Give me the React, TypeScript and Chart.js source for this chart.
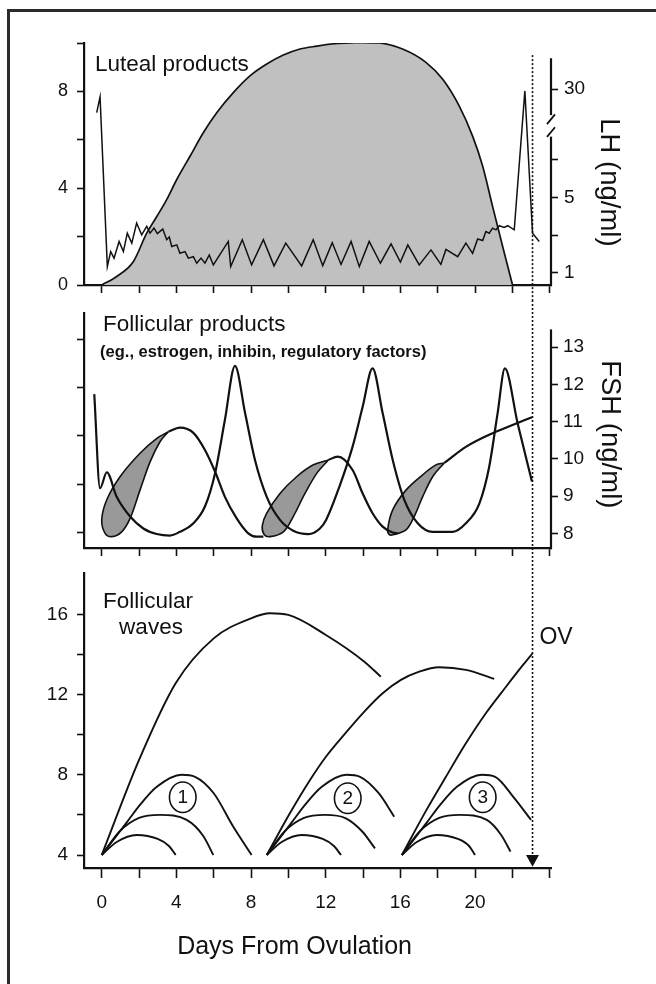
import React, { useEffect, useRef } from 'react';
import { Chart, registerables } from 'chart.js';

Chart.register(...registerables);

type P = [number, number];

const FONT = '"Liberation Sans", Arial, Helvetica, sans-serif';
const INK = '#111';

// ---------- shared x axis ----------
const X_MIN = -0.95;
const X_MAX = 24.07;
const dayTicks = [0, 2, 4, 6, 8, 10, 12, 14, 16, 18, 20, 22, 24];
const dayTickLabels = ['0', '', '4', '', '8', '', '12', '', '16', '', '20', '', ''];
const OVULATION_DAY = 23.08;

// ---------- panel 1 : luteal products / LH ----------
const lutealTicks = [0, 2, 4, 6, 8, 10];
const lutealTickLabels = ['0', '', '4', '', '8', ''];
const lhTickPos = [0.51, 2.05, 3.6, 5.19, 8.09];
const lhTickLabels = ['1', '', '5', '', '30'];
const lhAxisTop = 9.37;
const lhBreakHigh = 7.02;
const lhBreakLow = 6.13;
const lhBreakMarks = [6.85, 6.32];

const lutealProducts: P[] = [
  [0, 0], [0.8, 0.35], [1.69, 0.96], [2.41, 2.14], [2.95, 2.83], [3.48, 3.53], [4.02, 4.36],
  [4.73, 5.32], [5.44, 6.29], [6.16, 7.12], [7.05, 7.95], [7.94, 8.64], [8.84, 9.13], [9.73, 9.5],
  [10.62, 9.75], [11.52, 9.87], [12.5, 9.97], [13.8, 10.02], [14.87, 10.0], [16.12, 9.75],
  [17.37, 9.2], [18.27, 8.5], [19.15, 7.4], [19.87, 6.15], [20.41, 4.91], [20.94, 3.25],
  [21.48, 1.59], [22.01, 0],
];

const lh: P[] = [
  [-0.27, 7.12], [-0.09, 7.77], [0.3, 0.76], [0.48, 1.38], [0.66, 1.11], [0.93, 1.8], [1.16, 1.38],
  [1.37, 2.14], [1.61, 1.73], [1.87, 2.56], [2.14, 2.07], [2.41, 2.42], [2.59, 2.14], [2.8, 2.35],
  [2.98, 2.12], [3.27, 2.31], [3.48, 1.87], [3.62, 1.98], [3.75, 1.59], [4.02, 1.66], [4.19, 1.31],
  [4.46, 1.38], [4.64, 1.11], [4.91, 1.17], [5.09, 0.9], [5.32, 1.11], [5.53, 0.9], [5.76, 1.24],
  [5.98, 0.83], [6.78, 1.8], [6.91, 0.76], [7.53, 1.87], [8.03, 0.83], [8.66, 1.87], [9.23, 0.79],
  [9.86, 1.73], [10.71, 0.79], [11.33, 1.87], [11.84, 0.8], [12.35, 1.75], [12.82, 0.85],
  [13.36, 1.8], [13.8, 0.76], [14.33, 1.8], [14.93, 0.9], [15.5, 1.7], [16.0, 0.95], [16.4, 1.66],
  [17.01, 0.83], [17.64, 1.45], [18.17, 0.85], [18.44, 1.47], [19.07, 1.17], [19.51, 1.73],
  [19.87, 1.31], [20.14, 1.9], [20.41, 1.84], [20.58, 2.21], [20.76, 2.14], [20.94, 2.35],
  [21.12, 2.28], [21.3, 2.45], [21.56, 2.38], [21.75, 2.45], [22.1, 2.28], [22.67, 8.02],
  [23.08, 2.14], [23.44, 1.8],
];

// ---------- panel 2 : follicular products / FSH ----------
const FSH_MIN = 7.605;
const FSH_MAX = 13.92;
const fshTicks = [8, 9, 10, 11, 12, 13];
const fshTickLabels = ['8', '9', '10', '11', '12', '13'];
const fshAxisTop = 13.48;
const productTicks = [0, 1, 2, 3, 4];
const productTickLabels = ['', '', '', '', ''];

const fsh: P[] = [
  [-0.4, 11.74], [-0.09, 9.21], [0.27, 9.64], [0.8, 8.98], [1.52, 8.45], [2.23, 8.13], [2.95, 7.98],
  [3.66, 7.94], [4.19, 8.04], [4.91, 8.27], [5.53, 8.72], [6.07, 9.61], [6.6, 11.05], [7.14, 12.5],
  [7.68, 11.23], [8.21, 9.97], [8.84, 8.98], [9.55, 8.36], [10.26, 8.07], [11.07, 7.98],
  [11.69, 8.13], [12.02, 8.36], [12.73, 9.25], [13.44, 10.33], [13.98, 11.4], [14.51, 12.43],
  [15.05, 11.23], [15.59, 9.97], [16.21, 8.9], [16.93, 8.27], [17.73, 8.04], [18.8, 8.04],
  [19.51, 8.27], [20.23, 8.8], [20.76, 9.79], [21.21, 11.23], [21.6, 12.43], [22.28, 10.96],
  [23.05, 9.39],
];

const products1: P[] = [
  [3.57, 10.73], [4.19, 10.84], [4.91, 10.7], [5.53, 10.24], [6.07, 9.66], [6.6, 8.98],
  [7.23, 8.4], [7.85, 8.0], [8.3, 7.91], [8.66, 7.91],
];
const leaf1: P[] = [
  [3.57, 10.73], [2.95, 10.55], [2.05, 10.15], [0.98, 9.52], [0.27, 8.9], [0.0, 8.36], [0.18, 8.0],
  [0.54, 7.91], [1.07, 8.04], [1.52, 8.4], [2.05, 9.16], [2.59, 9.92], [3.12, 10.46], [3.57, 10.73],
];
const products2: P[] = [
  [12.14, 9.97], [12.64, 10.06], [13.44, 9.7], [13.98, 9.07], [14.51, 8.54], [15.05, 8.18],
  [15.59, 8.02], [15.85, 8.0],
];
const leaf2: P[] = [
  [12.14, 9.97], [11.34, 9.84], [10.44, 9.52], [9.55, 9.07], [8.84, 8.54], [8.6, 8.2], [8.7, 7.97],
  [9.01, 7.91], [9.73, 8.04], [10.26, 8.45], [10.89, 9.07], [11.52, 9.61], [12.14, 9.97],
];
const products3: P[] = [
  [18.35, 9.89], [19.53, 10.33], [20.94, 10.69], [22.01, 10.91], [23.05, 11.12],
];
const leaf3: P[] = [
  [18.35, 9.89], [17.9, 9.84], [17.19, 9.57], [16.3, 9.16], [15.59, 8.63], [15.32, 8.1],
  [15.42, 7.96], [15.67, 7.97], [16.3, 8.09], [16.74, 8.45], [17.19, 8.98], [17.73, 9.52],
  [18.35, 9.89],
];

// ---------- panel 3 : follicular waves ----------
const WAVE_MIN = 3.352;
const WAVE_MAX = 18.06;
const waveTicks = [4, 6, 8, 10, 12, 14, 16];
const waveTickLabels = ['4', '', '8', '', '12', '', '16'];

const wave1Dominant: P[] = [
  [0, 4], [2.0, 8.74], [3.96, 12.56], [6.0, 14.8], [8.0, 15.8], [9.02, 16.05], [10.0, 15.97],
  [12.01, 14.97], [14.07, 13.64], [14.95, 12.89],
];
const wave1Large: P[] = [
  [0, 4], [1.32, 5.6], [2.05, 6.5], [2.95, 7.4], [4.28, 8.0], [5.0, 7.9], [6.0, 7.08], [7.05, 5.41],
  [8.03, 4.0],
];
const wave1Medium: P[] = [
  [0, 4], [0.98, 5.2], [2.0, 5.85], [3.12, 6.0], [4.55, 5.75], [5.44, 4.95], [5.98, 4.0],
];
const wave1Small: P[] = [
  [0, 4], [0.8, 4.65], [1.87, 5.0], [3.0, 4.8], [3.6, 4.45], [3.96, 4.0],
];

const wave2Dominant: P[] = [
  [8.84, 4], [10.08, 6.08], [11.16, 7.74], [12.01, 8.9], [13.08, 10.1], [14.07, 11.15],
  [15.05, 12.06], [16.03, 12.73], [17.01, 13.14], [18.08, 13.36], [19.51, 13.23], [21.03, 12.78],
];
const wave2Large: P[] = [
  [8.84, 4], [10.16, 5.6], [10.89, 6.5], [11.79, 7.4], [13.12, 8.0], [13.84, 7.9], [14.84, 7.08],
  [15.67, 5.91],
];
const wave2Medium: P[] = [
  [8.84, 4], [9.82, 5.2], [10.84, 5.85], [11.96, 6.0], [13.08, 5.83], [13.97, 5.16], [14.64, 4.33],
];
const wave2Small: P[] = [
  [8.84, 4], [9.64, 4.65], [10.71, 5.0], [11.84, 4.8], [12.44, 4.45], [12.82, 4.0],
];

const wave3Dominant: P[] = [
  [16.08, 4], [17.37, 6.2], [18.44, 7.9], [19.51, 9.57], [20.58, 11.07], [21.66, 12.39],
  [22.55, 13.45], [23.08, 14.06],
];
const wave3Large: P[] = [
  [16.08, 4], [17.4, 5.6], [18.13, 6.5], [19.03, 7.4], [20.36, 8.0], [21.08, 7.9], [22.05, 6.9],
  [23.0, 5.75],
];
const wave3Medium: P[] = [
  [16.08, 4], [17.06, 5.2], [18.08, 5.85], [19.2, 6.0], [20.63, 5.75], [21.4, 5.0], [21.9, 4.17],
];
const wave3Small: P[] = [
  [16.08, 4], [16.88, 4.65], [17.95, 5.0], [19.08, 4.8], [19.68, 4.45], [20.0, 4.0],
];

const waveNumbers = ['1', '2', '3'];
const waveNumberPos: P[] = [[4.34, 6.88], [13.18, 6.83], [20.41, 6.88]];

// ---------- helpers ----------
const xy = (pts: P[]) => pts.map(([x, y]) => ({ x, y }));

const curve = (pts: P[], width: number, tension: number, extra: any = {}) => ({
  data: xy(pts),
  borderColor: INK,
  borderWidth: width,
  pointRadius: 0,
  pointHoverRadius: 0,
  tension,
  fill: false,
  ...extra,
});

const smooth = (pts: P[], width: number, extra: any = {}) =>
  curve(pts, width, 0, { cubicInterpolationMode: 'monotone', ...extra });

const tickFont = (size: number) => ({ family: FONT, size });

const fixedTicks = (values: number[]) => (scale: any) => {
  scale.ticks = values.map((v) => ({ value: v }));
};

const labelFrom = (values: number[], labels: string[]) => (v: any) => {
  const i = values.findIndex((t) => Math.abs(t - Number(v)) < 1e-6);
  return i >= 0 ? labels[i] : '';
};

const xScale = (height: number, showLabels: boolean, tickLength: number) => ({
  type: 'linear',
  position: 'bottom',
  min: X_MIN,
  max: X_MAX,
  afterBuildTicks: fixedTicks(dayTicks),
  afterFit: (s: any) => {
    s.height = height;
    s.paddingLeft = 0;
    s.paddingRight = 0;
  },
  ticks: {
    display: showLabels,
    autoSkip: false,
    maxRotation: 0,
    minRotation: 0,
    padding: 13.6,
    color: INK,
    font: tickFont(19),
    callback: labelFrom(dayTicks, dayTickLabels),
  },
  grid: {
    display: true,
    drawOnChartArea: false,
    drawTicks: true,
    tickLength,
    tickWidth: 1.6,
    tickColor: INK,
    color: INK,
  },
  border: { display: true, color: INK, width: 2.2 },
});

const yScale = (o: {
  position: 'left' | 'right';
  min: number;
  max: number;
  ticks: number[];
  labels: string[];
  size: number;
  padding: number;
  width: number;
  border: boolean;
}) => ({
  type: 'linear',
  position: o.position,
  min: o.min,
  max: o.max,
  afterBuildTicks: fixedTicks(o.ticks),
  afterFit: (s: any) => {
    s.width = o.width;
    s.paddingTop = 0;
    s.paddingBottom = 0;
  },
  ticks: {
    color: INK,
    padding: o.padding,
    font: tickFont(o.size),
    callback: labelFrom(o.ticks, o.labels),
    autoSkip: false,
  },
  grid: {
    display: true,
    drawOnChartArea: false,
    drawTicks: true,
    tickLength: 7,
    tickWidth: 1.6,
    tickColor: INK,
    color: INK,
  },
  border: { display: o.border, color: INK, width: 2.2 },
});

const common = {
  animation: false,
  responsive: true,
  maintainAspectRatio: false,
  events: [],
  plugins: { legend: { display: false }, tooltip: { enabled: false } },
};

function seg(ctx: CanvasRenderingContext2D, x1: number, y1: number, x2: number, y2: number) {
  ctx.beginPath();
  ctx.moveTo(x1, y1);
  ctx.lineTo(x2, y2);
  ctx.stroke();
}

function dotted(ctx: CanvasRenderingContext2D, x: number, y1: number, y2: number) {
  ctx.save();
  ctx.strokeStyle = INK;
  ctx.lineWidth = 1.6;
  ctx.setLineDash([2, 2]);
  seg(ctx, x, y1, x, y2);
  ctx.restore();
}

function label(
  ctx: CanvasRenderingContext2D,
  str: string,
  x: number,
  y: number,
  size: number,
  align: CanvasTextAlign,
  bold = false,
) {
  ctx.save();
  ctx.fillStyle = INK;
  ctx.font = `${bold ? 'bold ' : ''}${size}px ${FONT}`;
  ctx.textAlign = align;
  ctx.textBaseline = 'middle';
  ctx.fillText(str, x, y);
  ctx.restore();
}

function vlabel(ctx: CanvasRenderingContext2D, str: string, x: number, y: number, size: number) {
  ctx.save();
  ctx.translate(x, y);
  ctx.rotate(Math.PI / 2);
  ctx.fillStyle = INK;
  ctx.font = `${size}px ${FONT}`;
  ctx.textAlign = 'center';
  ctx.textBaseline = 'middle';
  ctx.fillText(str, 0, 0);
  ctx.restore();
}

// ---------- chart configs ----------
const overlay1 = {
  id: 'overlay1',
  afterDraw(chart: any) {
    const { ctx, chartArea, scales } = chart;
    const x = scales.x;
    const y = scales.y;
    const r = scales.yLH;
    ctx.save();
    ctx.strokeStyle = INK;
    ctx.lineWidth = 2.2;
    seg(ctx, r.left, r.getPixelForValue(lhAxisTop), r.left, r.getPixelForValue(lhBreakHigh));
    seg(ctx, r.left, r.getPixelForValue(lhBreakLow), r.left, chartArea.bottom + 1.1);
    ctx.lineWidth = 1.8;
    for (const v of lhBreakMarks) {
      seg(ctx, r.left - 4, r.getPixelForValue(v - 0.2), r.left + 4, r.getPixelForValue(v + 0.2));
    }
    ctx.restore();
    dotted(ctx, x.getPixelForValue(OVULATION_DAY), y.getPixelForValue(9.5), chart.height);
    label(ctx, 'Luteal products', x.getPixelForValue(-0.36), y.getPixelForValue(9.09), 22.5, 'left');
    vlabel(ctx, 'LH (ng/ml)', r.left + 57.7, y.getPixelForValue(4.24), 27.5);
  },
};

const panel1 = (): any => ({
  type: 'line',
  data: {
    datasets: [
      { ...curve(lh, 1.5, 0), yAxisID: 'yLH' },
      { ...smooth(lutealProducts, 1.7), fill: 'origin', backgroundColor: '#c0c0c0', yAxisID: 'y' },
    ],
  },
  options: {
    ...common,
    layout: { padding: { top: 43, left: 0, right: 0, bottom: 0 } },
    scales: {
      x: xScale(15, false, 8),
      y: yScale({
        position: 'left', min: 0, max: 10, ticks: lutealTicks, labels: lutealTickLabels,
        size: 18, padding: 9, width: 84, border: true,
      }),
      yLH: yScale({
        position: 'right', min: 0, max: 10, ticks: lhTickPos, labels: lhTickLabels,
        size: 19, padding: 6, width: 105, border: false,
      }),
    },
  },
  plugins: [overlay1],
});

const overlay2 = {
  id: 'overlay2',
  afterDraw(chart: any) {
    const { ctx, chartArea, scales } = chart;
    const x = scales.x;
    const y = scales.y;
    ctx.save();
    ctx.strokeStyle = INK;
    ctx.lineWidth = 2.2;
    seg(ctx, y.left, y.getPixelForValue(fshAxisTop), y.left, chartArea.bottom + 1.1);
    ctx.restore();
    dotted(ctx, x.getPixelForValue(OVULATION_DAY), 0, chart.height);
    label(ctx, 'Follicular products', x.getPixelForValue(0.07), y.getPixelForValue(13.6), 22.5, 'left');
    label(
      ctx, '(eg., estrogen, inhibin, regulatory factors)',
      x.getPixelForValue(-0.09), y.getPixelForValue(12.87), 16.5, 'left', true,
    );
    vlabel(ctx, 'FSH (ng/ml)', y.left + 58.3, y.getPixelForValue(10.66), 27.5);
  },
};

const leafStyle = { fill: 'shape', backgroundColor: '#999999' };

const panel2 = (): any => ({
  type: 'line',
  data: {
    datasets: [
      { ...smooth(fsh, 2.2), yAxisID: 'y' },
      { ...smooth(products1, 2.2), yAxisID: 'y' },
      { ...smooth(products2, 2.2), yAxisID: 'y' },
      { ...smooth(products3, 2.2), yAxisID: 'y' },
      { ...curve(leaf1, 1.6, 0.35), ...leafStyle, yAxisID: 'y' },
      { ...curve(leaf2, 1.6, 0.35), ...leafStyle, yAxisID: 'y' },
      { ...curve(leaf3, 1.6, 0.35), ...leafStyle, yAxisID: 'y' },
    ],
  },
  options: {
    ...common,
    layout: { padding: { top: 13, left: 0, right: 0, bottom: 0 } },
    scales: {
      x: xScale(12, false, 8),
      yL: yScale({
        position: 'left', min: -0.325, max: 4.545, ticks: productTicks, labels: productTickLabels,
        size: 18, padding: 9, width: 84, border: true,
      }),
      y: yScale({
        position: 'right', min: FSH_MIN, max: FSH_MAX, ticks: fshTicks, labels: fshTickLabels,
        size: 19, padding: 5, width: 105, border: false,
      }),
    },
  },
  plugins: [overlay2],
});

const overlay3 = {
  id: 'overlay3',
  afterDraw(chart: any) {
    const { ctx, chartArea, scales } = chart;
    const x = scales.x;
    const y = scales.y;
    const ox = x.getPixelForValue(OVULATION_DAY);
    const base = y.getPixelForValue(4.0);
    const tip = y.getPixelForValue(3.42);
    dotted(ctx, ox, 0, base);
    ctx.save();
    ctx.fillStyle = INK;
    ctx.beginPath();
    ctx.moveTo(ox - 6.5, base);
    ctx.lineTo(ox + 6.5, base);
    ctx.lineTo(ox, tip);
    ctx.closePath();
    ctx.fill();
    ctx.strokeStyle = INK;
    ctx.lineWidth = 1.6;
    waveNumbers.forEach((n, i) => {
      const cx = x.getPixelForValue(waveNumberPos[i][0]);
      const cy = y.getPixelForValue(waveNumberPos[i][1]);
      ctx.beginPath();
      ctx.ellipse(cx, cy, 13.3, 15.3, 0, 0, Math.PI * 2);
      ctx.stroke();
      label(ctx, n, cx, cy + 0.5, 19, 'center');
    });
    ctx.restore();
    label(ctx, 'Follicular', x.getPixelForValue(2.48), y.getPixelForValue(16.63), 22.5, 'center');
    label(ctx, 'waves', x.getPixelForValue(2.64), y.getPixelForValue(15.31), 22.5, 'center');
    label(ctx, 'OV', x.getPixelForValue(24.34), y.getPixelForValue(14.86), 23, 'center');
    label(ctx, 'Days From Ovulation', x.getPixelForValue(10.33), chartArea.bottom + 78.7, 25, 'center');
  },
};

const panel3 = (): any => ({
  type: 'line',
  data: {
    datasets: [
      smooth(wave1Dominant, 1.9),
      smooth(wave1Large, 1.9),
      smooth(wave1Medium, 1.9),
      smooth(wave1Small, 1.9),
      smooth(wave2Dominant, 1.9),
      smooth(wave2Large, 1.9),
      smooth(wave2Medium, 1.9),
      smooth(wave2Small, 1.9),
      smooth(wave3Dominant, 1.9),
      smooth(wave3Large, 1.9),
      smooth(wave3Medium, 1.9),
      smooth(wave3Small, 1.9),
    ],
  },
  options: {
    ...common,
    layout: { padding: { top: 13, left: 0, right: 105, bottom: 0 } },
    scales: {
      x: xScale(116, true, 10),
      y: yScale({
        position: 'left', min: WAVE_MIN, max: WAVE_MAX, ticks: waveTicks, labels: waveTickLabels,
        size: 19, padding: 9, width: 84, border: true,
      }),
    },
  },
  plugins: [overlay3],
});

// ---------- components ----------
function Panel({ top, height, build }: { top: number; height: number; build: () => any }) {
  const ref = useRef<HTMLCanvasElement>(null);
  useEffect(() => {
    if (!ref.current) return;
    const chart = new Chart(ref.current, build());
    return () => chart.destroy();
  }, [build]);
  return (
    <div style={{ position: 'absolute', left: 0, top, width: 656, height }}>
      <canvas ref={ref} />
    </div>
  );
}

export default function App() {
  return (
    <div
      style={{
        position: 'absolute',
        left: 0,
        top: 0,
        width: 656,
        height: 984,
        overflow: 'hidden',
        background: '#fff',
      }}
    >
      <div
        style={{
          position: 'absolute',
          left: 7,
          top: 9,
          width: 649,
          height: 975,
          boxSizing: 'border-box',
          borderTop: '3px solid #2b2b2b',
          borderLeft: '3px solid #2b2b2b',
        }}
      />
      <Panel top={0} height={300} build={panel1} />
      <Panel top={300} height={260} build={panel2} />
      <Panel top={560} height={424} build={panel3} />
    </div>
  );
}
